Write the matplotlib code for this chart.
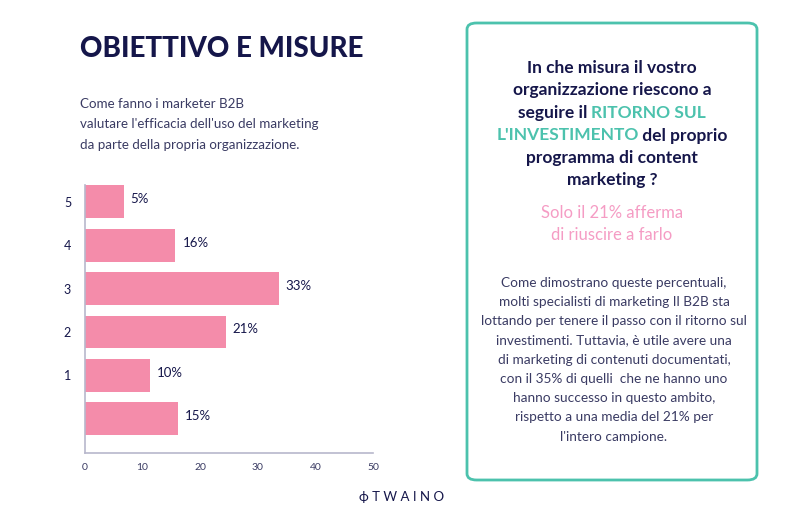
import matplotlib
matplotlib.use("Agg")
import matplotlib.pyplot as plt
from matplotlib.patches import FancyBboxPatch

# dati del grafico
posizioni = [5, 4, 3, 2, 1, 0]
lunghezze = [6.7, 15.7, 33.6, 24.4, 11.3, 16.1]
etichette = ["5%", "16%", "33%", "21%", "10%", "15%"]
tick_y = [5, 4, 3, 2, 1]
tick_x = [0, 10, 20, 30, 40, 50]

navy = "#15164a"
grigio = "#3a3b63"
rosa = "#f48caa"
verde = "#4cc2ad"
rosa_testo = "#f59cc4"

plt.rcParams["font.family"] = ["Lato", "DejaVu Sans"]

fig = plt.figure(figsize=(8, 5.3), dpi=100)
fig.patch.set_facecolor("white")

# grafico a barre
ax = fig.add_axes([85 / 800, 1 - 453 / 530, 288 / 800, 268 / 530])
ax.barh(posizioni, lunghezze, height=0.76, color=rosa)
for p, l, e in zip(posizioni, lunghezze, etichette):
    ax.annotate(e, (l, p), xytext=(5, 2), textcoords="offset points",
                va="center", ha="left", fontsize=9.5, color=navy)
ax.set_xlim(0, 50)
ax.set_ylim(-0.79, 5.39)
ax.set_xticks(tick_x)
ax.set_xticklabels([str(t) for t in tick_x], fontsize=7.5, color=grigio)
ax.set_yticks(tick_y)
ax.set_yticklabels([str(t) for t in tick_y], fontsize=9, color=navy)
ax.tick_params(length=0, pad=10)
ax.tick_params(axis="x", pad=7)
for s in ["top", "right"]:
    ax.spines[s].set_visible(False)
for s in ["left", "bottom"]:
    ax.spines[s].set_color("#b8b8cc")
    ax.spines[s].set_linewidth(1.2)

# titolo e sottotitolo
fig.text(80 / 800, 1 - 49 / 530, "OBIETTIVO E MISURE", fontsize=20, fontweight="black",
         color=navy, va="center", ha="left")
sotto = ["Come fanno i marketer B2B",
         "valutare l'efficacia dell'uso del marketing",
         "da parte della propria organizzazione."]
for i, riga in enumerate(sotto):
    fig.text(80 / 800, 1 - (104 + i * 20.5) / 530, riga, fontsize=9.6, fontweight="normal",
             color=grigio, va="center", ha="left")

# riquadro a destra
box = FancyBboxPatch((467 / 800, 1 - 480 / 530), 290 / 800, 457 / 530,
                     boxstyle="round,pad=0,rounding_size=0.012",
                     transform=fig.transFigure, fill=False, edgecolor=verde, linewidth=2)
fig.patches.append(box)

cx = 612 / 800
domanda = [
    [("In che misura il vostro", navy)],
    [("organizzazione riescono a", navy)],
    [("seguire il ", navy), ("RITORNO SUL", verde)],
    [("L'INVESTIMENTO", verde), (" del proprio", navy)],
    [("programma di content", navy)],
    [("marketing ?", navy)],
]
renderer = fig.canvas.get_renderer()
for i, pezzi in enumerate(domanda):
    y = 1 - (68 + i * 22.5) / 530
    testi = [fig.text(0, y, t, fontsize=12.5, fontweight="bold", color=c, va="center", ha="left")
             for t, c in pezzi]
    larghezze = [t.get_window_extent(renderer).width / 800 for t in testi]
    x = cx - sum(larghezze) / 2
    for t, w in zip(testi, larghezze):
        t.set_x(x)
        x += w

for i, riga in enumerate(["Solo il 21% afferma", "di riuscire a farlo"]):
    fig.text(cx, 1 - (213 + i * 22) / 530, riga, fontsize=12, fontweight="normal",
             color=rosa_testo, va="center", ha="center")

corpo = ["Come dimostrano queste percentuali,",
         "molti specialisti di marketing Il B2B sta",
         "lottando per tenere il passo con il ritorno sul",
         "investimenti. Tuttavia, è utile avere una",
         "di marketing di contenuti documentati,",
         "con il 35% di quelli  che ne hanno uno",
         "hanno successo in questo ambito,",
         "rispetto a una media del 21% per",
         "l'intero campione."]
for i, riga in enumerate(corpo):
    fig.text(614 / 800, 1 - (283 + i * 19.2) / 530, riga, fontsize=9.8, fontweight="normal",
             color=grigio, va="center", ha="center")

# logo
fig.text(402 / 800, 1 - 497 / 530, "ϕ T W A I N O", fontsize=9.5, color=navy,
         va="center", ha="center")

fig.savefig("out.png", dpi=100)
